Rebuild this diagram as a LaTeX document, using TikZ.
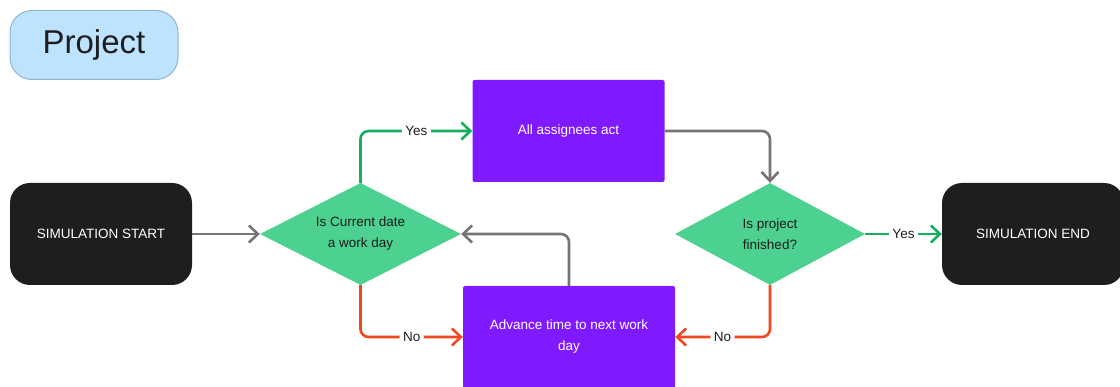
\documentclass[tikz,border=0pt]{standalone}
\usepackage{fontspec}
\setmainfont{Liberation Sans}
\usetikzlibrary{shapes.geometric,arrows.meta}

\definecolor{termblack}{HTML}{1E1E1E}
\definecolor{actpurple}{HTML}{7F19FE}
\definecolor{askgreen}{HTML}{4CD191}
\definecolor{linegray}{HTML}{757575}
\definecolor{yesgreen}{HTML}{14AE5C}
\definecolor{nored}{HTML}{F24822}
\definecolor{titleblue}{HTML}{BDE3FF}
\definecolor{titleedge}{HTML}{92B4D0}

\begin{document}
\begin{tikzpicture}[x=1pt, y=-1pt,
    font=\fontsize{13.5}{21}\selectfont,
    terminal/.style={fill=termblack, text=white, rounded corners=20pt,
        minimum width=182pt, minimum height=102pt, inner sep=0pt},
    action/.style={fill=actpurple, text=white, rounded corners=2pt,
        minimum width=192pt, minimum height=102pt, inner sep=0pt, align=center},
    ask/.style={diamond, aspect=2, fill=askgreen, text=termblack,
        minimum width=201pt, minimum height=102pt, inner sep=0pt, align=center},
    flow/.style={line width=2.6pt, rounded corners=8pt,
        -{Straight Barb[length=9pt, width=17pt, line width=2.6pt]}},
    tag/.style={fill=white, text=termblack, inner sep=3.5pt}]
 	\useasboundingbox (0,0) rectangle (1120,387);

 	% title
 	\node (title) [fill=titleblue, draw=titleedge, line width=1pt, rounded corners=22pt,
 		minimum width=168pt, minimum height=69pt, text=termblack,
 		font=\fontsize{33}{38}\selectfont] at (94,45) {Project};

 	% nodes
 	\node (start) [terminal] at (101,234) {SIMULATION START};
 	\node (workday) [ask] at (360.5,234) {Is Current date\\a work day};
 	\node (act) [action] at (568.5,131) {All assignees act};
 	\node (done) [ask, minimum width=190pt] at (770,234) {Is project\\finished?};
 	\node (end) [terminal] at (1033,234) {SIMULATION END};
 	\node (advance) [action, minimum width=212pt] at (569,337) {Advance time to next work\\day};

 	% connectors
 	\draw [flow, linegray] (start) -- (workday);
 	\draw [flow, yesgreen] (workday.north) |- (act.west) node [tag, pos=0.75] {Yes};
 	\draw [flow, nored] (workday.south) |- (advance.west) node [tag, pos=0.75] {No};
 	\draw [flow, linegray] (act.east) -| (done.north);
 	\draw [flow, yesgreen] (done.east) -- (end.west) node [tag, midway] {Yes};
 	\draw [flow, nored] (done.south) |- (advance.east) node [tag, pos=0.75] {No};
 	\draw [flow, linegray] (advance.north) |- (workday.east);
\end{tikzpicture}
\end{document}
